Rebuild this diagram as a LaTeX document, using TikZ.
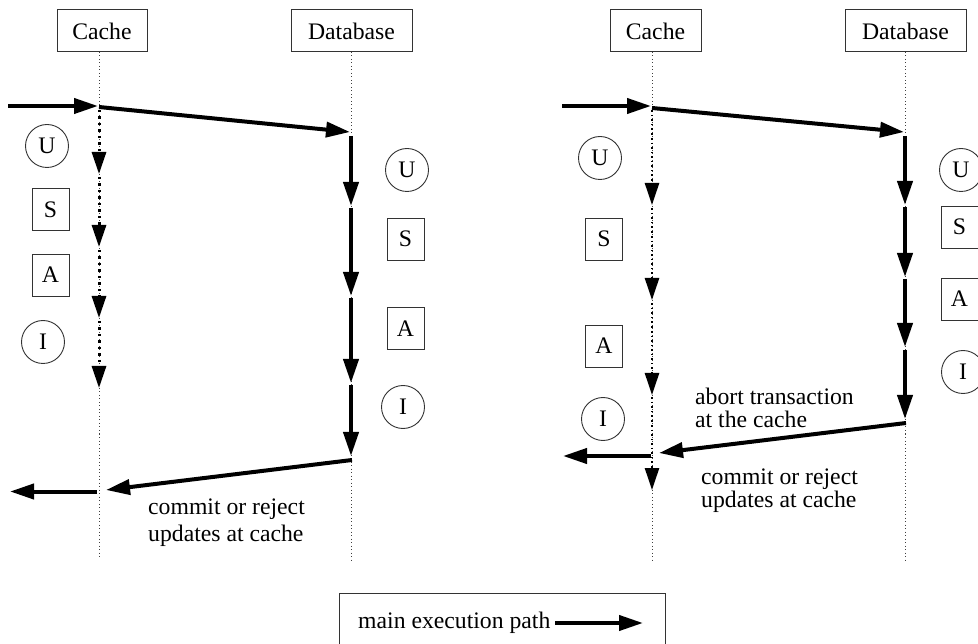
\documentclass[tikz,border=0pt]{standalone}
\usepackage{fontspec}
\setmainfont{Liberation Serif}
\usetikzlibrary{arrows.meta}
\begin{document}
\begin{tikzpicture}[x=1pt,y=-1pt,
  every node/.style={font=\fontsize{23.7}{27}\selectfont},
  hdr/.style={draw=black!80,line width=1pt,minimum width=#1,minimum height=42pt,inner sep=0pt},
  stbox/.style={draw=black!80,line width=0.9pt,minimum width=37pt,minimum height=42pt,inner sep=0pt},
  stcirc/.style={draw=black!80,line width=0.9pt,circle,minimum size=43pt,inner sep=0pt},
  life/.style={line width=1pt,black!75,dash pattern=on 1pt off 2.5pt},
  mainarr/.style={line width=4pt,-{Triangle[length=24pt,width=15pt]}},
  cacheL/.style={line width=3pt,dash pattern=on 2.5pt off 4pt,-{Triangle[length=22pt,width=14pt]}},
  cacheR/.style={line width=2.5pt,dash pattern=on 2pt off 3pt on 1.2pt off 3pt,-{Triangle[length=22pt,width=14pt]}},
  lbl/.style={align=left,inner sep=0pt}]
\useasboundingbox (0,0) rectangle (978,644);

% ---------------- LEFT DIAGRAM ----------------
\node[hdr=90pt] (hcL) at (102,31) {Cache};
\node[hdr=121pt] (hdL) at (351.5,31) {Database};
\coordinate (lcLt) at (99,52);   \coordinate (lcLb) at (99,557);
\coordinate (ldLt) at (351,52);  \coordinate (ldLb) at (351,562);
\draw[life] (lcLt) -- (lcLb);
\draw[life] (ldLt) -- (ldLb);

\coordinate (inL) at (8,106);
\coordinate (c1L) at (98,106);
\coordinate (c1Ls) at (99,107);
\coordinate (d1L) at (350,132);
\draw[mainarr] (inL) -- (c1L);
\draw[mainarr] (c1Ls) -- (d1L);

% database segments
\coordinate (da0) at (351,136); \coordinate (da1) at (351,206);
\coordinate (db0) at (351,208); \coordinate (db1) at (351,296);
\coordinate (dc0) at (351,298); \coordinate (dc1) at (351,383);
\coordinate (dd0) at (351,385); \coordinate (dd1) at (351,456);
\draw[mainarr] (da0) -- (da1);
\draw[mainarr] (db0) -- (db1);
\draw[mainarr] (dc0) -- (dc1);
\draw[mainarr] (dd0) -- (dd1);

\coordinate (rL0) at (352,460); \coordinate (rL1) at (106,490);
\draw[mainarr] (rL0) -- (rL1);
\coordinate (oL0) at (97,491.5); \coordinate (oL1) at (10,491.5);
\draw[mainarr] (oL0) -- (oL1);

% cache segments
\coordinate (ca0) at (99,110); \coordinate (ca1) at (99,174);
\coordinate (cb0) at (99,177); \coordinate (cb1) at (99,247);
\coordinate (cc0) at (99,250); \coordinate (cc1) at (99,318);
\coordinate (cd0) at (99,321); \coordinate (cd1) at (99,388);
\draw[cacheL] (ca0) -- (ca1);
\draw[cacheL] (cb0) -- (cb1);
\draw[cacheL] (cc0) -- (cc1);
\draw[cacheL] (cd0) -- (cd1);

\node[stcirc] (uLc) at (47,146) {U};
\node[stbox]  (sLc) at (50.5,209.5) {S};
\node[stbox]  (aLc) at (50.5,275) {A};
\node[stcirc] (iLc) at (43,342) {I};

\node[stcirc] (uLd) at (407,170) {U};
\node[stbox]  (sLd) at (405.5,239) {S};
\node[stbox]  (aLd) at (405.5,328.5) {A};
\node[stcirc] (iLd) at (403,407) {I};

\node[lbl,anchor=west] (tL1) at (148,509) {commit or reject};
\node[lbl,anchor=west] (tL2) at (148,536) {updates at cache};

% ---------------- RIGHT DIAGRAM ----------------
\node[hdr=91pt] (hcR) at (655.5,31) {Cache};
\node[hdr=121pt] (hdR) at (905.5,31) {Database};
\coordinate (lcRt) at (652,52);  \coordinate (lcRb) at (652,562);
\coordinate (ldRt) at (905,52);  \coordinate (ldRb) at (905,562);
\draw[life] (lcRt) -- (lcRb);
\draw[life] (ldRt) -- (ldRb);

\coordinate (inR) at (562,106);
\coordinate (c1R) at (651,106);
\coordinate (c1Rs) at (652,108);
\coordinate (d1R) at (904,132);
\draw[mainarr] (inR) -- (c1R);
\draw[mainarr] (c1Rs) -- (d1R);

\coordinate (ea0) at (905,136); \coordinate (ea1) at (905,205);
\coordinate (eb0) at (905,207); \coordinate (eb1) at (905,277);
\coordinate (ec0) at (905,279); \coordinate (ec1) at (905,347);
\coordinate (ed0) at (905,350); \coordinate (ed1) at (905,419);
\draw[mainarr] (ea0) -- (ea1);
\draw[mainarr] (eb0) -- (eb1);
\draw[mainarr] (ec0) -- (ec1);
\draw[mainarr] (ed0) -- (ed1);

\coordinate (rR0) at (906,423); \coordinate (rR1) at (659,453);
\draw[mainarr] (rR0) -- (rR1);
\coordinate (oR0) at (651,456); \coordinate (oR1) at (563,456);
\draw[mainarr] (oR0) -- (oR1);

\coordinate (fa0) at (652,110); \coordinate (fa1) at (652,205);
\coordinate (fb0) at (652,208); \coordinate (fb1) at (652,300);
\coordinate (fc0) at (652,303); \coordinate (fc1) at (652,395);
\coordinate (fd0) at (652,397); \coordinate (fd1) at (652,490);
\draw[cacheR] (fa0) -- (fa1);
\draw[cacheR] (fb0) -- (fb1);
\draw[cacheR] (fc0) -- (fc1);
\draw[cacheR] (fd0) -- (fd1);

\node[stcirc] (uRc) at (600,158) {U};
\node[stbox]  (sRc) at (604,239) {S};
\node[stbox]  (aRc) at (604,346) {A};
\node[stcirc] (iRc) at (603,419) {I};

\node[stcirc] (uRd) at (961,170) {U};
\node[stbox]  (sRd) at (959.5,227) {S};
\node[stbox]  (aRd) at (959.5,299) {A};
\node[stcirc] (iRd) at (963,372) {I};

\node[lbl,anchor=west] (tR1) at (695,396) {abort transaction};
\node[lbl,anchor=west] (tR2) at (695,419) {at the cache};
\node[lbl,anchor=west] (tR3) at (701,479) {commit or reject};
\node[lbl,anchor=west] (tR4) at (701,502) {updates at cache};

% ---------------- LEGEND ----------------
\node[draw=black!80,line width=1pt,minimum width=326pt,minimum height=80pt,inner sep=0pt,anchor=north west] (leg) at (339,593) {};
\node[lbl,anchor=west] (legt) at (358,623) {main execution path};
\coordinate (lga0) at (555,623); \coordinate (lga1) at (643,623);
\draw[mainarr] (lga0) -- (lga1);
\end{tikzpicture}
\end{document}
